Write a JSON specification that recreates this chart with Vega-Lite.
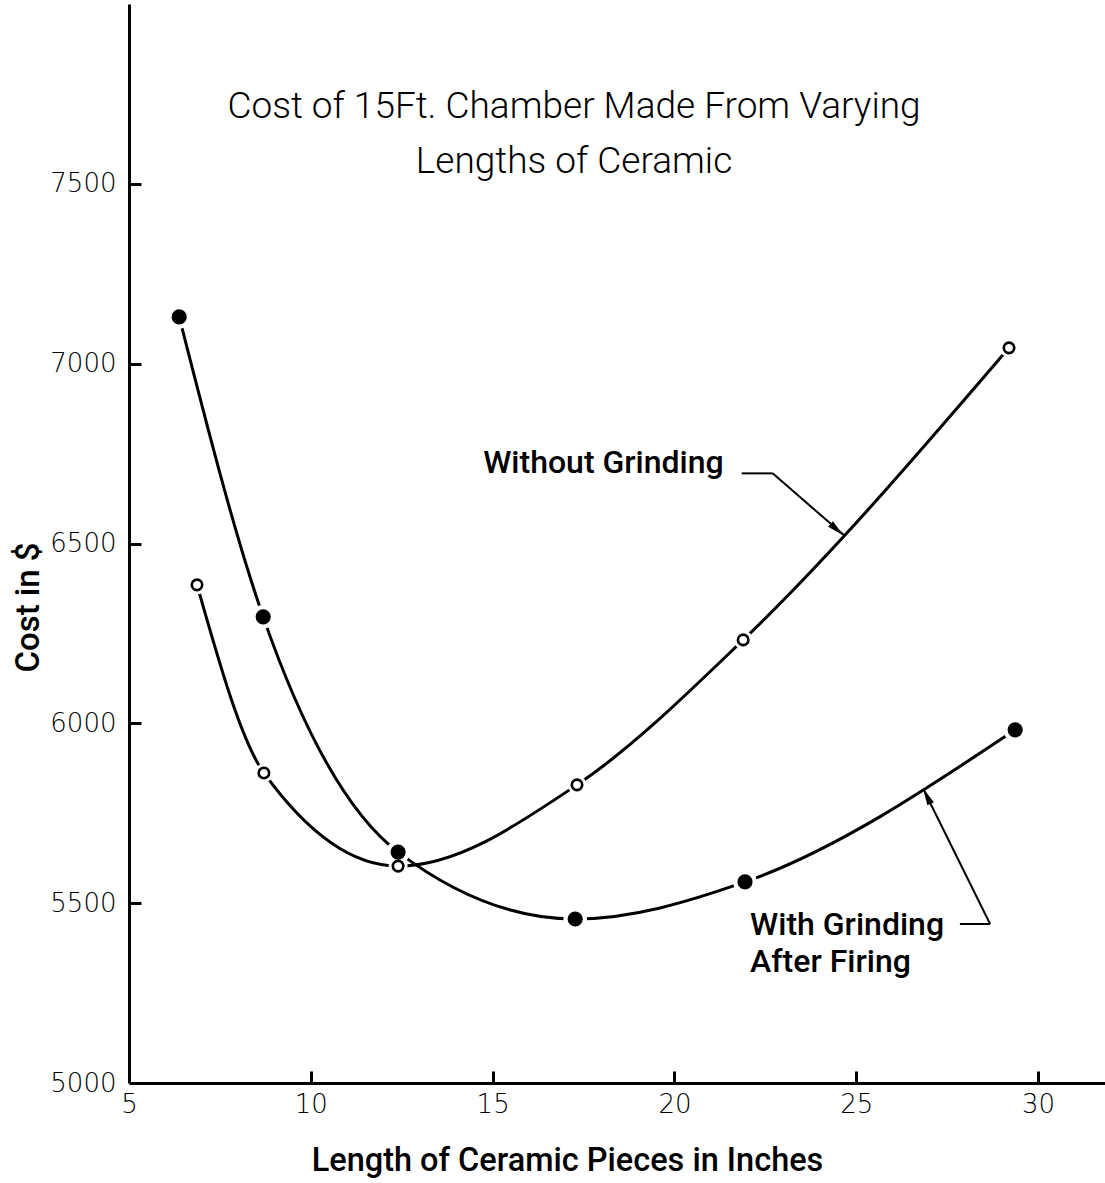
{
  "$schema": "https://vega.github.io/schema/vega-lite/v6.json",
  "width": 976,
  "height": 1079,
  "autosize": {"type": "none"},
  "padding": {"left": 129, "top": 4, "right": 0, "bottom": 100},
  "background": "white",
  "config": {"view": {"stroke": null}, "font": "Roboto"},
  "title": {
    "text": ["Cost of 15Ft. Chamber Made From Varying", "Lengths of Ceramic"],
    "anchor": "middle",
    "frame": "group",
    "orient": "top",
    "offset": -177,
    "baseline": "top",
    "dx": -43,
    "font": "Roboto",
    "fontWeight": 300,
    "fontSize": 37,
    "lineHeight": 55,
    "color": "black"
  },
  "resolve": {"axis": {"x": "independent", "y": "independent"}},
  "datasets": {
    "points": [
      {"series": "Without Grinding", "length": 6.87, "cost": 6385},
      {"series": "Without Grinding", "length": 8.71, "cost": 5862},
      {"series": "Without Grinding", "length": 12.4, "cost": 5603},
      {"series": "Without Grinding", "length": 17.32, "cost": 5829},
      {"series": "Without Grinding", "length": 21.89, "cost": 6232},
      {"series": "Without Grinding", "length": 29.2, "cost": 7044},
      {"series": "With Grinding After Firing", "length": 6.38, "cost": 7130},
      {"series": "With Grinding After Firing", "length": 8.69, "cost": 6296},
      {"series": "With Grinding After Firing", "length": 12.4, "cost": 5642},
      {"series": "With Grinding After Firing", "length": 17.27, "cost": 5456},
      {"series": "With Grinding After Firing", "length": 21.94, "cost": 5559},
      {"series": "With Grinding After Firing", "length": 29.37, "cost": 5982}
    ],
    "notes": [
      {"label": "Without Grinding", "length": 14.74, "cost": 6696},
      {"label": "With Grinding", "length": 22.08, "cost": 5412},
      {"label": "After Firing", "length": 22.08, "cost": 5309}
    ],
    "leaders": [
      {"length": 21.85, "cost": 6695, "length2": 22.7, "cost2": 6695},
      {"length": 22.7, "cost": 6695, "length2": 24.65, "cost2": 6524},
      {"length": 27.85, "cost": 5442, "length2": 28.68, "cost2": 5442},
      {"length": 28.68, "cost": 5442, "length2": 26.84, "cost2": 5818}
    ],
    "heads": [
      {"length": 24.47, "cost": 6538, "angle": 131.5},
      {"length": 26.94, "cost": 5798, "angle": 333.6}
    ]
  },
  "layer": [
    {
      "data": {"name": "points"},
      "mark": {"type": "line", "interpolate": "monotone", "strokeWidth": 3, "color": "black"},
      "encoding": {
        "x": {
          "field": "length",
          "type": "quantitative",
          "scale": {"domain": [5, 31.84], "nice": false, "zero": false},
          "axis": {
            "values": [5, 10, 15, 20, 25, 30],
            "format": "d",
            "title": "Length of Ceramic Pieces in Inches",
            "grid": false,
            "ticks": false,
            "domainColor": "black",
            "domainWidth": 3,
            "labelPadding": 8,
            "labelFont": "DejaVu Sans",
            "labelFontWeight": 300,
            "labelFontSize": 26,
            "labelColor": "black",
            "labelFlush": false,
            "labelOverlap": false,
            "titleFont": "Roboto",
            "titleFontWeight": 500,
            "titleFontSize": 32.5,
            "titleColor": "black",
            "titleX": 438,
            "titleY": 87,
            "titleAlign": "center",
            "titleBaseline": "alphabetic"
          }
        },
        "y": {
          "field": "cost",
          "type": "quantitative",
          "scale": {"domain": [5000, 8000], "nice": false, "zero": false},
          "axis": {
            "values": [5000, 5500, 6000, 6500, 7000, 7500],
            "format": "d",
            "title": "Cost in $",
            "grid": false,
            "ticks": false,
            "domainColor": "black",
            "domainWidth": 3,
            "labelPadding": 13,
            "labelFont": "DejaVu Sans",
            "labelFontWeight": 300,
            "labelFontSize": 26,
            "labelColor": "black",
            "labelFlush": false,
            "labelOverlap": false,
            "titleFont": "Roboto",
            "titleFontWeight": 500,
            "titleFontSize": 33,
            "titleColor": "black",
            "titleAngle": -90,
            "titleX": -101,
            "titleY": 603,
            "titleAlign": "center",
            "titleBaseline": "middle"
          }
        },
        "detail": {"field": "series"}
      }
    },
    {
      "data": {"name": "points"},
      "transform": [{"filter": "datum.series === 'With Grinding After Firing'"}],
      "mark": {"type": "point", "shape": "circle", "filled": true, "fill": "white", "opacity": 1, "strokeWidth": 0, "size": 560},
      "encoding": {
        "x": {
          "field": "length",
          "type": "quantitative",
          "axis": {
            "orient": "top",
            "offset": -1079,
            "values": [10, 15, 20, 25, 30],
            "labels": false,
            "domain": false,
            "grid": false,
            "ticks": true,
            "tickSize": 12,
            "tickWidth": 3,
            "tickColor": "black",
            "title": null
          }
        },
        "y": {
          "field": "cost",
          "type": "quantitative",
          "axis": {
            "orient": "right",
            "offset": -976,
            "values": [5500, 6000, 6500, 7000, 7500],
            "labels": false,
            "domain": false,
            "grid": false,
            "ticks": true,
            "tickSize": 12,
            "tickWidth": 3,
            "tickColor": "black",
            "title": null
          }
        }
      }
    },
    {
      "data": {"name": "points"},
      "transform": [{"filter": "datum.series === 'Without Grinding'"}],
      "mark": {"type": "point", "shape": "circle", "filled": true, "fill": "white", "opacity": 1, "strokeWidth": 0, "size": 360},
      "encoding": {
        "x": {"field": "length", "type": "quantitative", "axis": null},
        "y": {"field": "cost", "type": "quantitative", "axis": null}
      }
    },
    {
      "data": {"name": "points"},
      "transform": [{"filter": "datum.series === 'With Grinding After Firing'"}],
      "mark": {"type": "point", "shape": "circle", "filled": true, "fill": "black", "opacity": 1, "strokeWidth": 0, "size": 230},
      "encoding": {
        "x": {"field": "length", "type": "quantitative", "axis": null},
        "y": {"field": "cost", "type": "quantitative", "axis": null}
      }
    },
    {
      "data": {"name": "points"},
      "transform": [{"filter": "datum.series === 'Without Grinding'"}],
      "mark": {"type": "point", "shape": "circle", "fill": "white", "stroke": "black", "strokeWidth": 2.6, "opacity": 1, "size": 110},
      "encoding": {
        "x": {"field": "length", "type": "quantitative", "axis": null},
        "y": {"field": "cost", "type": "quantitative", "axis": null}
      }
    },
    {
      "data": {"name": "leaders"},
      "mark": {"type": "rule", "color": "black", "strokeWidth": 2},
      "encoding": {
        "x": {"field": "length", "type": "quantitative", "axis": null},
        "y": {"field": "cost", "type": "quantitative", "axis": null},
        "x2": {"field": "length2"},
        "y2": {"field": "cost2"}
      }
    },
    {
      "data": {"name": "heads"},
      "mark": {"type": "point", "shape": "M0,-1L0.42,1L-0.42,1Z", "filled": true, "color": "black", "opacity": 1, "size": 300},
      "encoding": {
        "x": {"field": "length", "type": "quantitative", "axis": null},
        "y": {"field": "cost", "type": "quantitative", "axis": null},
        "angle": {"field": "angle", "type": "quantitative", "scale": null}
      }
    },
    {
      "data": {"name": "notes"},
      "mark": {"type": "text", "align": "left", "baseline": "alphabetic", "font": "Roboto", "fontWeight": 500, "fontSize": 32, "color": "black"},
      "encoding": {
        "x": {"field": "length", "type": "quantitative", "axis": null},
        "y": {"field": "cost", "type": "quantitative", "axis": null},
        "text": {"field": "label"}
      }
    }
  ]
}
